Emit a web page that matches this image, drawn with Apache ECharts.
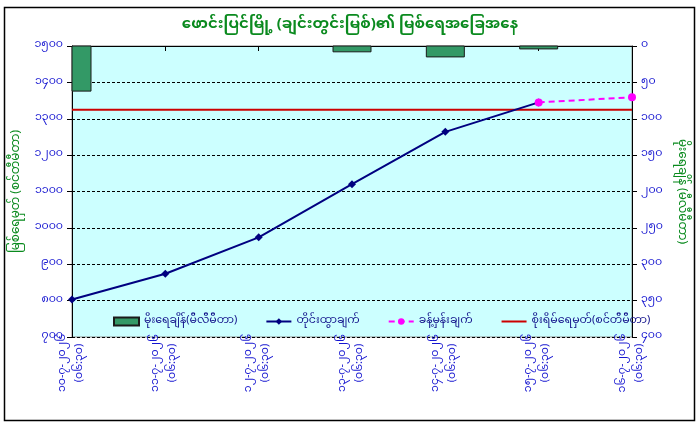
<!DOCTYPE html>
<html>
<head>
<meta charset="utf-8">
<title>ဖောင်းပြင်မြို့ မြစ်ရေအခြေအနေ</title>
<script src="https://cdn.jsdelivr.net/npm/echarts@6/dist/echarts.min.js"></script>
<style>
  html, body { margin: 0; padding: 0; background: #fff; }
  #chart { width: 700px; height: 428px; }
</style>
</head>
<body>
<div id="chart"></div>
<script>
// river level data
const categories = [
  '၁၀-၇-၂၀၂၆\n(၀၆:၃၀)',
  '၁၁-၇-၂၀၂၆\n(၀၆:၃၀)',
  '၁၂-၇-၂၀၂၆\n(၀၆:၃၀)',
  '၁၃-၇-၂၀၂၆\n(၀၆:၃၀)',
  '၁၄-၇-၂၀၂၆\n(၀၆:၃၀)',
  '၁၅-၇-၂၀၂၆\n(၀၆:၃၀)',
  '၁၆-၇-၂၀၂၆\n(၀၆:၃၀)'
]
const rainfall = [62, null, null, 8, 15, 4, null]
const waterLevel = [803, 874, 974, 1120, 1264, 1345, null]
const forecast = [null, null, null, null, null, 1345, 1359]
const dangerLevel = [1325, 1325, 1325, 1325, 1325, 1325, 1325]

const leftTickLabels = ['၇၀၀', '၈၀၀', '၉၀၀', '၁၀၀၀', '၁၁၀၀', '၁၂၀၀', '၁၃၀၀', '၁၄၀၀', '၁၅၀၀']
const rightTickLabels = ['၀', '၅၀', '၁၀၀', '၁၅၀', '၂၀၀', '၂၅၀', '၃၀၀', '၃၅၀', '၄၀၀']

const seriesNames = ['မိုးရေချိန်(မီလီမီတာ)', 'တိုင်းထွာချက်', 'ခန့်မှန်းချက်', 'စိုးရိမ်ရေမှတ်(စင်တီမီတာ)']

const font = "'Noto Sans Myanmar', 'Padauk', 'Myanmar Text', 'Noto Sans', sans-serif"
const green = '#0a8a1e'
const blue = '#1515d0'

var myChart = echarts.init(document.getElementById('chart'))

// bars hang from the top of the inverted rain axis; the first one is cut at the plot edge
function renderRainBar(params, api) {
  var v = api.value(1)
  if (v == null || isNaN(v)) return
  var top = api.coord([api.value(0), 0])
  var bottom = api.coord([api.value(0), v])
  var w = 38
  var rect = echarts.graphic.clipRectByRect(
    { x: top[0] - w / 2, y: top[1], width: w, height: bottom[1] - top[1] },
    { x: params.coordSys.x, y: params.coordSys.y, width: params.coordSys.width, height: params.coordSys.height }
  )
  if (!rect) return
  return { type: 'rect', shape: rect, style: api.style() }
}

var option = {
  backgroundColor: '#fff',
  animation: false,
  textStyle: { fontFamily: font },
  title: {
    text: 'ဖောင်းပြင်မြို့ (ချင်းတွင်းမြစ်)၏ မြစ်ရေအခြေအနေ',
    left: 'center',
    top: 14,
    textStyle: { color: green, fontSize: 15, fontWeight: 'bold', fontFamily: font }
  },
  graphic: [{
    type: 'rect',
    shape: { x: 4.5, y: 7.5, width: 690, height: 413 },
    style: { fill: 'none', stroke: '#000', lineWidth: 1.5 },
    z: -1
  }],
  grid: {
    left: 72, right: 68, top: 46, bottom: 91,
    show: true,
    backgroundColor: '#ccffff',
    borderColor: '#8c8c8c',
    borderWidth: 1
  },
  legend: {
    data: [
      { name: seriesNames[0], icon: 'rect' },
      seriesNames[1],
      seriesNames[2],
      { name: seriesNames[3], itemStyle: { opacity: 0 } }
    ],
    left: 108,
    top: 311,
    itemWidth: 25,
    itemHeight: 8,
    itemGap: 28,
    textStyle: { color: '#10108a', fontSize: 11, fontFamily: font }
  },
  xAxis: {
    type: 'category',
    data: categories,
    boundaryGap: false,
    axisLine: { show: true, lineStyle: { color: '#000', width: 1 } },
    axisTick: { show: true, length: 5, lineStyle: { color: '#000' } },
    splitLine: { show: false },
    axisLabel: {
      rotate: 90,
      align: 'center',
      verticalAlign: 'middle',
      margin: 26,
      interval: 0,
      color: blue,
      fontSize: 11,
      lineHeight: 17,
      fontFamily: font
    }
  },
  yAxis: [
    {
      type: 'value',
      min: 700, max: 1500, interval: 100,
      name: 'မြစ်ရေမှတ် (စင်တီမီတာ)',
      nameLocation: 'middle',
      nameRotate: 90,
      nameGap: 45,
      nameTextStyle: { color: green, fontSize: 12, fontFamily: font },
      axisLine: { show: true, lineStyle: { color: '#000', width: 1 } },
      axisTick: { show: true, length: 5, lineStyle: { color: '#000' } },
      axisLabel: {
        color: blue, fontSize: 11, margin: 9, fontFamily: font,
        formatter: function (v) { return leftTickLabels[Math.round((v - 700) / 100)] }
      },
      splitLine: { show: true, lineStyle: { color: '#000', type: [3, 2], width: 1 } }
    },
    {
      type: 'value',
      min: 0, max: 400, interval: 50,
      inverse: true,
      position: 'right',
      name: 'မိုးရေချိန် (မီလီမီတာ)',
      nameLocation: 'middle',
      nameRotate: -90,
      nameGap: 37,
      nameTextStyle: { color: green, fontSize: 12, fontFamily: font },
      axisLine: { show: true, lineStyle: { color: '#000', width: 1 } },
      axisTick: { show: true, length: 5, lineStyle: { color: '#000' } },
      axisLabel: {
        color: blue, fontSize: 11, margin: 9, fontFamily: font,
        formatter: function (v) { return rightTickLabels[Math.round(v / 50)] }
      },
      splitLine: { show: false }
    }
  ],
  series: [
    {
      name: seriesNames[0],
      type: 'custom',
      yAxisIndex: 1,
      renderItem: renderRainBar,
      encode: { x: 0, y: 1 },
      data: rainfall.map(function (v, i) { return [i, v] }),
      itemStyle: { color: '#339966', borderColor: '#1a1a1a', borderWidth: 1 },
      z: 2
    },
    {
      name: seriesNames[1],
      type: 'line',
      data: waterLevel,
      symbol: 'diamond',
      symbolSize: 8,
      lineStyle: { color: '#000080', width: 2 },
      itemStyle: { color: '#000080' },
      z: 4
    },
    {
      name: seriesNames[2],
      type: 'line',
      data: forecast,
      symbol: 'circle',
      symbolSize: 8,
      lineStyle: { color: '#ff00ff', width: 2, type: [6, 4] },
      itemStyle: { color: '#ff00ff' },
      z: 5
    },
    {
      name: seriesNames[3],
      type: 'line',
      data: dangerLevel,
      symbol: 'none',
      lineStyle: { color: '#cc0000', width: 2 },
      itemStyle: { color: '#cc0000' },
      z: 3
    }
  ]
}

myChart.setOption(option)
</script>
</body>
</html>
